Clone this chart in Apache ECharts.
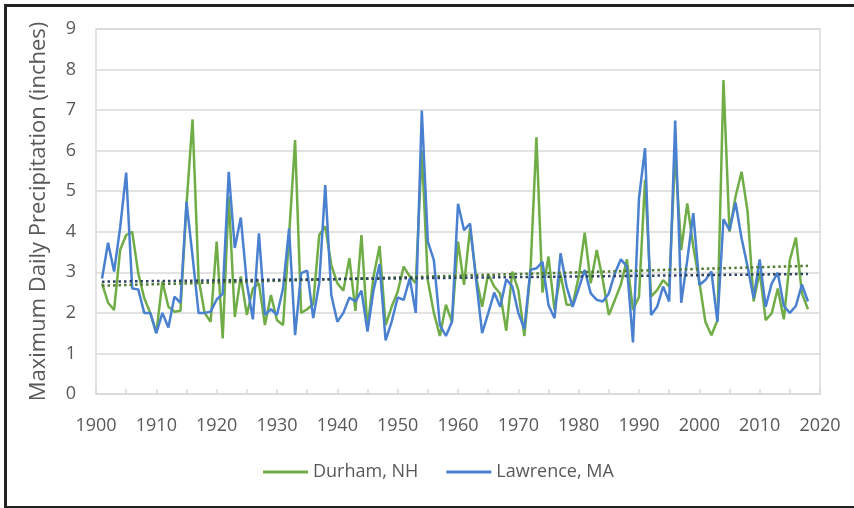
<!DOCTYPE html>
<html>
<head>
<meta charset="utf-8">
<script src="https://cdn.jsdelivr.net/npm/echarts@6/dist/echarts.min.js"></script>
<style>
    html, body { margin: 0; padding: 0; background: #fff; }
    #wrap { position: relative; width: 854px; height: 508px; overflow: hidden; }
    #chart { width: 854px; height: 508px; }
    #frame {
        position: absolute; left: 4px; top: 4px; width: 860px; height: 499px;
        border: 3px solid #222; border-right: none; box-sizing: content-box; pointer-events: none;
    }
</style>
</head>
<body>
<div id="wrap">
    <div id="chart"></div>
    <div id="frame"></div>
</div>
<script>
    // years 1901..2018
    const startYear = 1901
    const durham = [
        2.73, 2.25, 2.07, 3.55, 3.92, 4.0, 2.98, 2.36, 2.0, 1.5,
        2.77, 2.15, 2.03, 2.05, 4.66, 6.77, 2.85, 2.0, 1.78, 3.76,
        1.37, 4.87, 1.9, 2.9, 1.95, 2.6, 2.73, 1.7, 2.44, 1.82,
        1.7, 3.9, 6.26, 2.0, 2.09, 2.22, 3.92, 4.13, 3.18, 2.73,
        2.55, 3.35, 2.05, 3.92, 1.6, 2.9, 3.65, 1.7, 2.15, 2.52,
        3.14, 2.9, 2.73, 6.0, 2.8, 2.0, 1.43, 2.2, 1.78, 3.76,
        2.69, 4.09, 2.89, 2.15, 2.96, 2.65, 2.47, 1.56, 3.02, 2.56,
        1.43, 3.0, 6.33, 2.5, 3.39, 2.07, 2.95, 2.2, 2.2, 2.89,
        3.98, 2.73, 3.55, 2.81, 1.95, 2.32, 2.7, 3.32, 2.07, 2.4,
        5.28, 2.4, 2.56, 2.81, 2.65, 5.93, 3.55, 4.7, 3.63, 2.77,
        1.78, 1.45, 1.82, 7.74, 4.0, 4.87, 5.48, 4.5, 2.28, 3.02,
        1.82, 1.99, 2.6, 1.84, 3.3, 3.86, 2.48, 2.09
    ]
    const lawrence = [
        2.85, 3.73, 3.02, 4.1, 5.46, 2.6, 2.58, 2.0, 2.0, 1.5,
        2.0, 1.64, 2.4, 2.25, 4.74, 3.4, 2.0, 2.0, 2.03, 2.33,
        2.47, 5.48, 3.6, 4.35, 2.73, 1.84, 3.96, 1.95, 2.09, 1.95,
        2.6, 4.08, 1.45, 2.98, 3.04, 1.87, 2.73, 5.15, 2.44, 1.78,
        2.0, 2.38, 2.28, 2.55, 1.54, 2.56, 3.2, 1.32, 1.78, 2.38,
        2.32, 2.85, 2.0, 6.99, 3.76, 3.3, 1.7, 1.43, 1.78, 4.69,
        4.04, 4.2, 2.81, 1.5, 1.99, 2.5, 2.15, 2.83, 2.65, 2.0,
        1.6, 3.06, 3.1, 3.26, 2.19, 1.87, 3.47, 2.65, 2.15, 2.6,
        3.06, 2.48, 2.32, 2.28, 2.48, 2.98, 3.32, 3.14, 1.27, 4.83,
        6.06, 1.95, 2.15, 2.65, 2.28, 6.74, 2.25, 3.3, 4.46, 2.69,
        2.81, 3.02, 1.78, 4.31, 4.04, 4.72, 3.84, 3.14, 2.36, 3.32,
        2.15, 2.73, 2.99, 2.17, 2.0, 2.17, 2.7, 2.28
    ]
    // linear trend end points (1901, 2018)
    const trendYears = [1901, 2018]
    const trendDurham = [2.67, 3.16]
    const trendLawrence = [2.77, 2.96]

    const pairs = (vals, x0) => vals.map((v, i) => [x0 + i, v])
    const trendPairs = (vals) => vals.map((v, i) => [trendYears[i], v])

    const grey = '#595959'
    const font = 'Open Sans'

    let myChart = echarts.init(document.getElementById('chart'), null, { renderer: 'canvas' })

    let option = {
        animation: false,
        grid: {
            left: 96, right: 34, top: 29, bottom: 114,
            show: true, borderColor: '#d9d9d9', borderWidth: 1.5
        },
        legend: {
            data: [
                { name: 'Durham, NH', icon: 'rect' },
                { name: 'Lawrence, MA', icon: 'rect' }
            ],
            left: 258,
            top: 458,
            itemWidth: 45,
            itemHeight: 3,
            itemGap: 28,
            textStyle: { color: grey, fontSize: 18, fontFamily: font }
        },
        xAxis: {
            type: 'value',
            min: 1900,
            max: 2020,
            interval: 5,
            axisLine: { lineStyle: { color: '#d9d9d9', width: 1.5 } },
            axisTick: { inside: true, length: 5, lineStyle: { color: '#d9d9d9', width: 1.5 } },
            splitLine: { show: false },
            axisLabel: {
                color: grey, fontSize: 18, fontFamily: font, margin: 23,
                formatter: v => (v % 10 === 0 ? String(v) : '')
            }
        },
        yAxis: {
            type: 'value',
            min: 0,
            max: 9,
            interval: 1,
            name: 'Maximum Daily Precipitation (inches)',
            nameLocation: 'middle',
            nameGap: 46,
            nameTextStyle: { color: grey, fontSize: 22, fontFamily: font },
            axisLine: { show: false },
            axisTick: { show: false },
            splitLine: { lineStyle: { color: '#d9d9d9', width: 1.5 } },
            axisLabel: { color: grey, fontSize: 18, fontFamily: font, margin: 20 }
        },
        series: [
            {
                name: 'Durham, NH',
                type: 'line',
                data: pairs(durham, startYear),
                symbol: 'none',
                itemStyle: { color: '#70ad47' },
                lineStyle: { color: '#70ad47', width: 2.5 }
            },
            {
                name: 'Lawrence, MA',
                type: 'line',
                data: pairs(lawrence, startYear),
                symbol: 'none',
                itemStyle: { color: '#4a80d0' },
                lineStyle: { color: '#4a80d0', width: 2.5 }
            },
            {
                name: 'Durham trend',
                type: 'line',
                data: trendPairs(trendDurham),
                symbol: 'none',
                lineStyle: { color: '#4e7a34', width: 2.5, type: [2.5, 3] }
            },
            {
                name: 'Lawrence trend',
                type: 'line',
                data: trendPairs(trendLawrence),
                symbol: 'none',
                lineStyle: { color: '#2f4463', width: 2.5, type: [2.5, 3] }
            }
        ]
    }
    myChart.setOption(option)
</script>
</body>
</html>
